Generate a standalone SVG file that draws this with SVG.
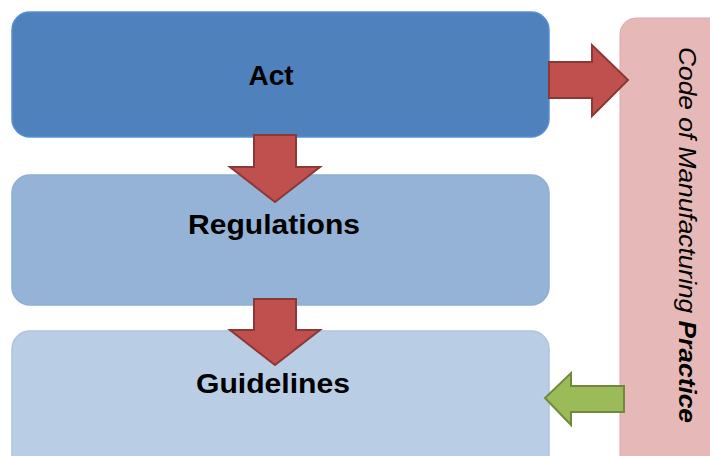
<svg xmlns="http://www.w3.org/2000/svg" width="710" height="456" viewBox="0 0 710 456">
<style>
.lbl{font-family:"Liberation Sans",Arial,sans-serif;font-weight:bold;font-size:28px;fill:#000;text-anchor:middle}
.side{font-family:"Liberation Sans",Arial,sans-serif;font-style:italic;font-size:23px;fill:#000}
.red{fill:#C0504D;stroke:#8C3836;stroke-width:2;stroke-linejoin:miter}
.green{fill:#9BBB59;stroke:#71893F;stroke-width:2}
</style>
<rect width="710" height="456" fill="#fff"/>
<g id="cmp">
<rect x="620" y="18" width="110" height="470" rx="16" fill="#E6B9B8" stroke="#DDAAA9" stroke-width="1"/>
<text class="side" transform="translate(679,47) rotate(90)" textLength="376" lengthAdjust="spacingAndGlyphs">Code of Manufacturing <tspan font-weight="bold">Practice</tspan></text>
</g>
<g id="guidelines">
<rect x="12" y="331" width="537" height="160" rx="18" fill="#B9CDE5" stroke="#ADC4E0" stroke-width="1.5"/>
<text class="lbl" x="273" y="393" textLength="154" lengthAdjust="spacingAndGlyphs">Guidelines</text>
</g>
<g id="regulations">
<rect x="12" y="175" width="537" height="130" rx="18" fill="#95B3D7" stroke="#8EAED5" stroke-width="1.5"/>
<text class="lbl" x="274" y="234" textLength="172" lengthAdjust="spacingAndGlyphs">Regulations</text>
</g>
<g id="act">
<rect x="12" y="12" width="537" height="125" rx="18" fill="#4F81BD" stroke="#558ED5" stroke-width="1.5"/>
<text class="lbl" x="271" y="85">Act</text>
</g>
<g id="connectors">
<path class="red" d="M549,62 H592 V45 L628,80 L592,116 V98 H549 Z"/>
<path class="red" d="M254,135 H296 V167 H320 L275,202 L230,167 H254 Z"/>
<path class="red" d="M254,299 H296 V330 H320 L275,365 L230,330 H254 Z"/>
<path class="green" d="M624,386 H571 V373 L545,398 L571,425 V412 H624 Z"/>
</g>
</svg>
